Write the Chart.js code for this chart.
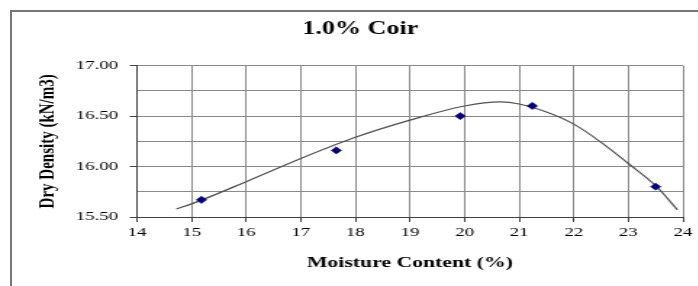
<!DOCTYPE html>
<html>
<head>
<meta charset="utf-8">
<script src="https://cdn.jsdelivr.net/npm/chart.js@4"></script>
<style>
  body { margin: 0; background: #fff; overflow: hidden; width: 698px; height: 286px; }
  #wrap { position: absolute; left: 0; top: 0; width: 497px; height: 286px; transform: scaleX(1.45); transform-origin: 0 0; }
  #frame { position: absolute; left: 10px; top: 10px; width: 800px; height: 400px; border-left: 2px solid #777; border-top: 2px solid #777; }
</style>
</head>
<body>
<div id="wrap"><canvas id="grafica" width="497" height="286"></canvas></div>
<div id="frame"></div>
<script>
// Datos medidos
var moisture = [15.18, 17.65, 19.92, 21.24, 23.5];
var density = [15.67, 16.16, 16.50, 16.60, 15.80];

// Curva de tendencia
var trendX = [14.72, 15, 16, 17, 18, 19, 20, 20.65, 21, 21.5, 22, 22.5, 23, 23.5, 23.9];
var trendY = [15.58, 15.63, 15.85, 16.08, 16.29, 16.46, 16.60, 16.64, 16.62, 16.54, 16.42, 16.24, 16.03, 15.81, 15.57];

var xTicks = [14, 15, 16, 17, 18, 19, 20, 21, 22, 23, 24];
var yTicks = ['15.50', '16.00', '16.50', '17.00'];

var serif = 'Liberation Serif';

function toPoints(xs, ys) {
    return xs.map(function (x, i) { return { x: x, y: ys[i] }; });
}

function isLabelled(v) {
    return yTicks.indexOf(v.toFixed(2)) !== -1;
}

new Chart(document.getElementById('grafica'), {
    type: 'scatter',
    data: {
        datasets: [{
            label: 'Datos',
            data: toPoints(moisture, density),
            pointStyle: 'rectRot',
            pointRadius: 3.6,
            backgroundColor: '#000080',
            borderColor: '#000080',
            borderWidth: 0.5,
            showLine: false
        }, {
            label: 'Tendencia',
            data: toPoints(trendX, trendY),
            showLine: true,
            pointRadius: 0,
            borderColor: '#505050',
            borderWidth: 1.2,
            cubicInterpolationMode: 'monotone',
            fill: false
        }]
    },
    options: {
        responsive: false,
        animation: false,
        layout: { padding: { left: 26, right: 26, top: 0, bottom: 0 } },
        plugins: {
            legend: { display: false },
            tooltip: { enabled: false },
            title: {
                display: true,
                text: '1.0% Coir',
                color: '#000',
                font: { family: serif, size: 18, weight: 'bold' },
                padding: { top: 19, bottom: 25 }
            }
        },
        scales: {
            x: {
                type: 'linear',
                min: xTicks[0],
                max: xTicks[xTicks.length - 1],
                afterBuildTicks: function (s) {
                    s.ticks = xTicks.map(function (v) { return { value: v }; });
                },
                afterFit: function (s) { s.height = 69; },
                ticks: {
                    color: '#000',
                    padding: 3,
                    maxRotation: 0,
                    font: { family: serif, size: 13 },
                    callback: function (v) { return String(v); }
                },
                grid: { color: '#8a8a8a', lineWidth: 1, tickLength: 5, tickColor: '#404040' },
                border: { color: '#404040', width: 1 },
                title: {
                    display: true,
                    text: 'Moisture Content (%)',
                    color: '#000',
                    font: { family: serif, size: 15, weight: 'bold' },
                    padding: { top: 4, bottom: 14 }
                }
            },
            y: {
                type: 'linear',
                min: 15.5,
                max: 17,
                ticks: {
                    stepSize: 0.25,
                    color: '#000',
                    padding: 8,
                    font: { family: serif, size: 13 },
                    callback: function (v) { return isLabelled(v) ? v.toFixed(2) : ''; }
                },
                afterFit: function (s) { s.width = 68.5; },
                grid: {
                    color: '#8a8a8a',
                    lineWidth: 1,
                    tickLength: 5,
                    tickColor: function (c) {
                        return c.tick && isLabelled(c.tick.value) ? '#404040' : 'rgba(0,0,0,0)';
                    }
                },
                border: { color: '#404040', width: 1 },
                title: {
                    display: true,
                    text: 'Dry Density (kN/m3)',
                    color: '#000',
                    font: { family: serif, size: 15, weight: 'bold' },
                    padding: { top: -2, bottom: 0 }
                }
            }
        }
    }
});
</script>
</body>
</html>
